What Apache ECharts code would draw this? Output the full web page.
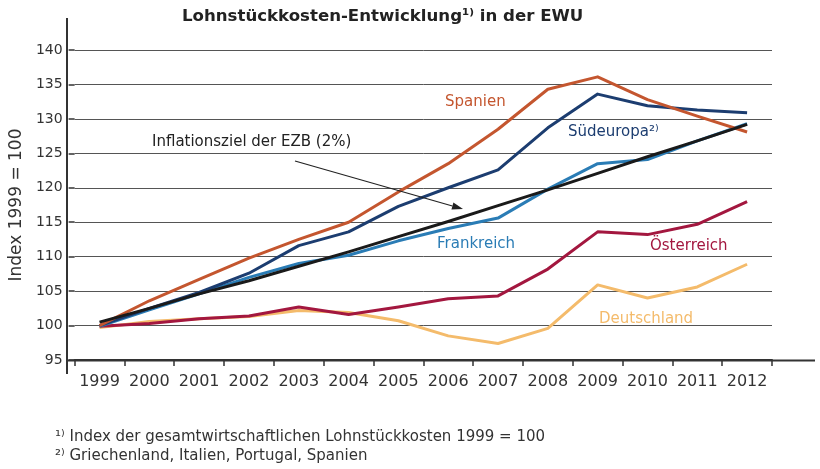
<!DOCTYPE html>
<html>
<head>
<meta charset="utf-8">
<script src="https://cdn.jsdelivr.net/npm/echarts@6/dist/echarts.min.js"></script>
<style>
html,body{margin:0;padding:0;background:#fff;}
#chart{width:820px;height:469px;}
</style>
</head>
<body>
<div id="chart"></div>
<script>
const years = ['1999','2000','2001','2002','2003','2004','2005','2006','2007','2008','2009','2010','2011','2012'];
const spanien     = [100.0, 103.6, 106.7, 109.8, 112.5, 115.0, 119.4, 123.5, 128.5, 134.3, 136.1, 132.8, 130.4, 128.1];
const suedeuropa  = [100.0, 102.5, 104.8, 107.6, 111.6, 113.6, 117.3, 120.0, 122.6, 128.7, 133.6, 131.9, 131.3, 130.9];
const frankreich  = [99.9, 102.3, 104.6, 107.0, 109.0, 110.2, 112.3, 114.1, 115.6, 119.8, 123.5, 124.1, 126.8, 129.3];
const oesterreich = [99.9, 100.3, 101.0, 101.4, 102.7, 101.6, 102.7, 103.9, 104.3, 108.2, 113.6, 113.2, 114.7, 118.0];
const deutschland = [99.7, 100.6, 101.0, 101.3, 102.2, 101.9, 100.7, 98.5, 97.4, 99.6, 105.9, 104.0, 105.6, 108.9];
const ezbZiel     = [100.5, 102.5, 104.6, 106.5, 108.6, 110.7, 112.9, 115.1, 117.4, 119.7, 122.1, 124.5, 126.8, 129.2];
const yTicks = [95, 100, 105, 110, 115, 120, 125, 130, 135, 140];

const FONT = 'DejaVu Sans';
const C = {
  spanien: '#c4562f',
  sued: '#1c3d70',
  frank: '#2a7cb5',
  oest: '#a3173f',
  deut: '#f4bb6b',
  ezb: '#1a1a1a'
};

const chart = echarts.init(document.getElementById('chart'), null, {renderer: 'canvas'});

function line(name, data, color) {
  return {
    name, type: 'line', data, symbol: 'none', smooth: false,
    lineStyle: {color, width: 3, join: 'round'},
    itemStyle: {color},
    animation: false
  };
}

// arrow geometry
const ax1 = 295, ay1 = 161, ax2 = 463, ay2 = 209;
const adx = ax2 - ax1, ady = ay2 - ay1, alen = Math.hypot(adx, ady);
const ux = adx / alen, uy = ady / alen;
const bx = ax2 - 11 * ux, by = ay2 - 11 * uy;
const px = -uy * 3.6, py = ux * 3.6;

const option = {
  backgroundColor: 'transparent',
  animation: false,
  grid: {left: 67, right: 48, top: 50, bottom: 109, containLabel: false},
  xAxis: {
    type: 'category',
    data: years,
    boundaryGap: true,
    axisLine: {show: true, lineStyle: {color: '#333', width: 2}},
    axisTick: {show: true, length: 6, inside: false, lineStyle: {color: '#333', width: 1.5}},
    axisLabel: {color: '#333', fontFamily: FONT, fontSize: 16, margin: 14, interval: 0},
    splitLine: {show: false}
  },
  yAxis: {
    type: 'value',
    min: yTicks[0], max: yTicks[yTicks.length - 1], interval: 5,
    name: 'Index 1999 = 100',
    nameLocation: 'middle',
    nameGap: 42,
    nameRotate: 90,
    nameTextStyle: {color: '#333', fontFamily: FONT, fontSize: 17},
    axisLine: {show: false},
    axisTick: {show: true, length: 6, lineStyle: {color: '#333', width: 1.5}},
    axisLabel: {color: '#333', fontFamily: FONT, fontSize: 14, margin: 12},
    splitLine: {show: true, lineStyle: {color: '#555', width: 1}}
  },
  series: [
    line('Deutschland', deutschland, C.deut),
    line('Österreich', oesterreich, C.oest),
    line('Frankreich', frankreich, C.frank),
    line('Südeuropa', suedeuropa, C.sued),
    line('Spanien', spanien, C.spanien),
    line('Inflationsziel der EZB (2%)', ezbZiel, C.ezb)
  ],
  graphic: [
    // extended axis lines
    {type: 'line', shape: {x1: 67, y1: 18, x2: 67, y2: 374}, style: {stroke: '#333', lineWidth: 2}, z: 50},
    {type: 'line', shape: {x1: 67, y1: 360.5, x2: 815, y2: 360.5}, style: {stroke: '#333', lineWidth: 2}, z: 50},
    // title
    {type: 'text', left: 182, top: 8, style: {text: 'Lohnstückkosten-Entwicklung¹⁾ in der EWU', fill: '#222', font: 'bold 16.6px "DejaVu Sans"'}},
    // series labels
    {type: 'text', left: 445, top: 95, style: {text: 'Spanien', fill: C.spanien, font: '15px "DejaVu Sans"'}},
    {type: 'text', left: 568, top: 125, style: {text: 'Südeuropa²⁾', fill: C.sued, font: '15px "DejaVu Sans"'}},
    {type: 'text', left: 152, top: 135, style: {text: 'Inflationsziel der EZB (2%)', fill: '#222', font: '15px "DejaVu Sans"'}},
    {type: 'text', left: 437, top: 237, style: {text: 'Frankreich', fill: C.frank, font: '15px "DejaVu Sans"'}},
    {type: 'text', left: 650, top: 239, style: {text: 'Österreich', fill: C.oest, font: '15px "DejaVu Sans"'}},
    {type: 'text', left: 599, top: 312, style: {text: 'Deutschland', fill: C.deut, font: '15px "DejaVu Sans"'}},
    // arrow
    {type: 'line', shape: {x1: ax1, y1: ay1, x2: bx, y2: by}, style: {stroke: '#222', lineWidth: 1.2}, z: 60},
    {type: 'polygon', shape: {points: [[ax2, ay2], [bx + px, by + py], [bx - px, by - py]]}, style: {fill: '#222'}, z: 60},
    // footnotes
    {type: 'text', left: 55, top: 430, style: {text: '¹⁾ Index der gesamtwirtschaftlichen Lohnstückkosten 1999 = 100', fill: '#333', font: '15px "DejaVu Sans"'}},
    {type: 'text', left: 55, top: 449, style: {text: '²⁾ Griechenland, Italien, Portugal, Spanien', fill: '#333', font: '15px "DejaVu Sans"'}}
  ]
};
chart.setOption(option);
</script>
</body>
</html>
